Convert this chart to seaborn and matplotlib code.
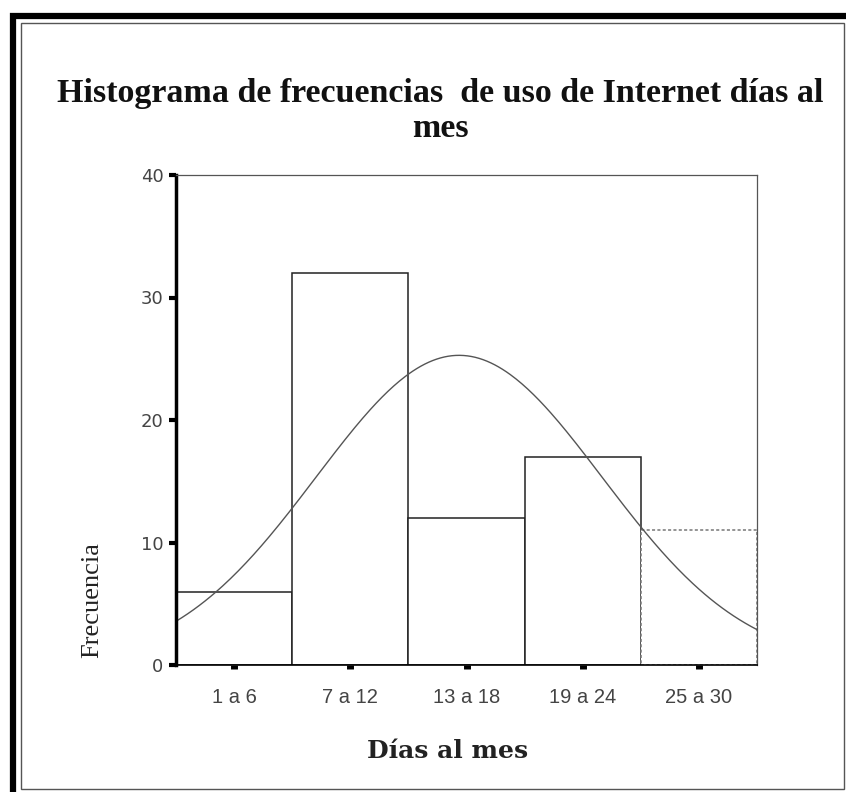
import numpy as np
import pandas as pd
import matplotlib
matplotlib.use("Agg")
import matplotlib.pyplot as plt
import seaborn as sns
from matplotlib.patches import Rectangle

# Data
categorias = ["1 a 6", "7 a 12", "13 a 18", "19 a 24", "25 a 30"]
frecuencias = [6, 32, 12, 17, 11]
y_ticks = [0, 10, 20, 30, 40]
titulo_l1 = "Histograma de frecuencias  de uso de Internet días al"
titulo_l2 = "mes"
x_label = "Días al mes"
y_label = "Frecuencia"

sns.set_theme(style="white")
plt.rcParams["font.family"] = ["DejaVu Sans"]
SERIF = ["Liberation Serif", "DejaVu Serif"]

fig = plt.figure(figsize=(8.46, 7.92), dpi=100)
fig.patch.set_facecolor("white")

W, H = 846, 792
# thick outer border (top and left visible), thin inner border
fig.patches.append(Rectangle((13 / W, -20 / H), 900 / W, (792 - 16 + 20) / H,
                             transform=fig.transFigure, fill=False,
                             edgecolor="black", linewidth=4.5, zorder=0))
fig.patches.append(Rectangle((20.5 / W, 1 - 789 / H), (844 - 20.5) / W, (789 - 23) / H,
                             transform=fig.transFigure, fill=False,
                             edgecolor="#555555", linewidth=1.0, zorder=0))

ax = fig.add_axes([176 / W, 1 - 665 / H, (757 - 176) / W, (665 - 175) / H])

df = pd.DataFrame({"cat": categorias, "freq": frecuencias})
sns.barplot(data=df, x="cat", y="freq", order=categorias, width=1.0,
            color="white", edgecolor="#222222", linewidth=1.1, ax=ax,
            saturation=1)
bars = ax.patches
bars[-1].set_linestyle((0, (2, 1.5)))
bars[-1].set_edgecolor("#777777")

# Fitted normal curve from the frequencies (category codes 1..5)
codes = np.arange(1, len(frecuencias) + 1)
f = np.array(frecuencias, dtype=float)
n = f.sum()
media = (codes * f).sum() / n
sd = np.sqrt(((codes - media) ** 2 * f).sum() / (n - 1))
xs = np.linspace(0.5, len(frecuencias) + 0.5, 300)
ys = n / (sd * np.sqrt(2 * np.pi)) * np.exp(-0.5 * ((xs - media) / sd) ** 2)
curve = pd.DataFrame({"x": xs - 1, "y": ys})
sns.lineplot(data=curve, x="x", y="y", ax=ax, color="#555555", linewidth=1.0)

ax.set_xlim(-0.5, len(categorias) - 0.5)
ax.set_ylim(0, 40)
ax.set_yticks(y_ticks)
ax.set_yticklabels([str(v) for v in y_ticks], fontsize=13, color="#444444")
ax.set_xticks(range(len(categorias)))
ax.set_xticklabels(categorias, fontsize=14.5, color="#444444",
                   family=["Liberation Sans", "DejaVu Sans"])

ax.tick_params(axis="y", direction="out", length=5, width=3, color="black",
               pad=4, left=True)
ax.tick_params(axis="x", direction="out", length=3, width=5, color="black",
               pad=13.5, bottom=True)

for side in ["top", "right"]:
    ax.spines[side].set_visible(True)
    ax.spines[side].set_color("#555555")
    ax.spines[side].set_linewidth(0.9)
ax.spines["left"].set_color("black")
ax.spines["left"].set_linewidth(2.5)
ax.spines["bottom"].set_color("black")
ax.spines["bottom"].set_linewidth(1.2)

xl = ax.set_xlabel(x_label, family=["DejaVu Serif"], fontsize=18,
                   fontweight="bold", color="#222222")
xl.set_verticalalignment("baseline")
ax.xaxis.set_label_coords((448 - 176) / 581, (665 - 758) / 490)
ax.set_ylabel(y_label, family=SERIF, fontsize=19, color="#222222")
ax.yaxis.set_label_coords(-0.126, 0.133)

fig.text(440 / W, 1 - 102 / H, titulo_l1, ha="center", va="baseline",
         family=SERIF, fontsize=24.5, fontweight="bold", color="#111111")
fig.text(440 / W, 1 - 137 / H, titulo_l2, ha="center", va="baseline",
         family=SERIF, fontsize=24.5, fontweight="bold", color="#111111")

fig.savefig("out.png", dpi=100, facecolor="white")
